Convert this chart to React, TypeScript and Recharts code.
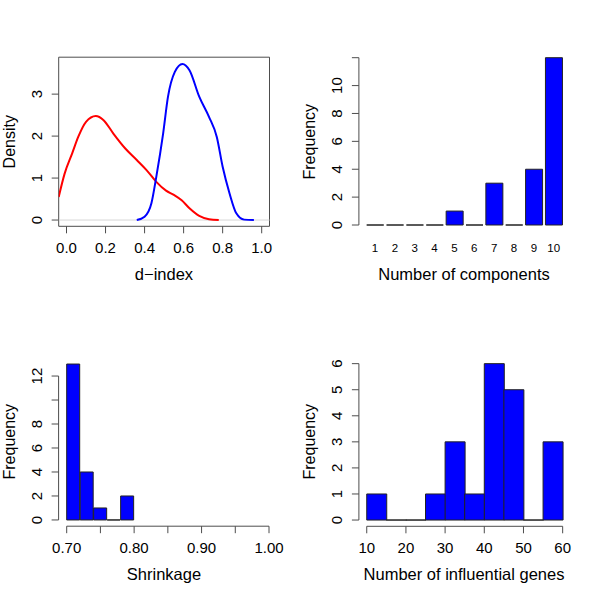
import React from 'react';
import { LineChart, Line, BarChart, Bar, XAxis, YAxis, ReferenceLine, ReferenceArea } from 'recharts';

const FONT = '"Liberation Sans", Arial, Helvetica, sans-serif';
const AXIS = '#4d4d4d';
const BLUE = '#0000ff';
const TICK_FONT = 15;
const TITLE_FONT = 16.5;

// d-index densities
const lowX = [-0.04, -0.01, 0.03, 0.06, 0.1, 0.15, 0.19, 0.24, 0.3, 0.36, 0.41, 0.46, 0.51, 0.55, 0.59, 0.63, 0.68, 0.73, 0.78];
const lowY = [0.55, 1.1, 1.6, 1.98, 2.34, 2.48, 2.38, 2.06, 1.71, 1.43, 1.19, 0.91, 0.7, 0.6, 0.47, 0.28, 0.1, 0.02, 0];
const highX = [0.36, 0.4, 0.435, 0.46, 0.495, 0.52, 0.555, 0.594, 0.63, 0.68, 0.73, 0.77, 0.8, 0.835, 0.87, 0.91, 0.96];
const highY = [0, 0.08, 0.4, 1.03, 2.06, 2.94, 3.53, 3.72, 3.57, 2.94, 2.46, 1.98, 1.27, 0.64, 0.16, 0.01, 0];
const dIndexDomain = [-0.04, 1.04];
const densityDomain = [-0.149, 3.88];
const dIndexTicks = [0, 0.2, 0.4, 0.6, 0.8, 1];
const densityTicks = [0, 1, 2, 3];

// number of components
const components = [1, 2, 3, 4, 5, 6, 7, 8, 9, 10];
const componentFreq = [0, 0, 0, 0, 1, 0, 3, 0, 4, 12];
const compXDomain = [0.19, 10.81];
const compYDomain = [-0.48, 12.48];
const compYTicks = [0, 2, 4, 6, 8, 10, 12];
const compYLabels = [0, 2, 4, 6, 8, 10];

// shrinkage histogram (bin mids)
const shrinkMid = [0.71, 0.73, 0.75, 0.77, 0.79];
const shrinkFreq = [13, 4, 1, 0, 2];
const shrinkXDomain = [0.688, 1.012];
const shrinkYDomain = [-0.52, 13.52];
const shrinkXTicks = [0.7, 0.75, 0.8, 0.85, 0.9, 0.95, 1];
const shrinkXLabels = [0.7, 0.8, 0.9, 1];
const shrinkYTicks = [0, 2, 4, 6, 8, 10, 12];
const shrinkYLabels = [0, 2, 4, 6, 8, 12];

// influential genes histogram (bin mids)
const geneMid = [12.5, 17.5, 22.5, 27.5, 32.5, 37.5, 42.5, 47.5, 52.5, 57.5];
const geneFreq = [1, 0, 0, 1, 3, 1, 6, 5, 0, 3];
const geneXDomain = [8, 62];
const geneYDomain = [-0.24, 6.24];
const geneXTicks = [10, 20, 30, 40, 50, 60];
const geneYTicks = [0, 1, 2, 3, 4, 5, 6];

const lowData = lowX.map((x, i) => ({ x, y: lowY[i] }));
const highData = highX.map((x, i) => ({ x, y: highY[i] }));
const compData = components.map((n, i) => ({ n, f: componentFreq[i] }));
const shrinkData = shrinkMid.map((m, i) => ({ m, f: shrinkFreq[i] }));
const geneData = geneMid.map((m, i) => ({ m, f: geneFreq[i] }));

const xTick = (fmt: (v: number) => string, shown: number[] | null, size = TICK_FONT, drop = 20) => (p: any) => {
  const v = p.payload.value;
  if (shown && !shown.includes(v)) return <g />;
  return (
    <text x={p.x} y={p.y + drop} textAnchor="middle" fontSize={size} fontFamily={FONT} fill="#000">
      {fmt(v)}
    </text>
  );
};

const yTick = (shown: number[] | null) => (p: any) => {
  const v = p.payload.value;
  if (shown && !shown.includes(v)) return <g />;
  const bx = p.x - 10;
  return (
    <text x={bx} y={p.y} transform={`rotate(-90 ${bx} ${p.y})`} textAnchor="middle" fontSize={TICK_FONT} fontFamily={FONT} fill="#000">
      {String(v)}
    </text>
  );
};

const xTitle = (text: string) => () => (
  <text x={164} y={280} textAnchor="middle" fontSize={TITLE_FONT} fontFamily={FONT} fill="#000">{text}</text>
);
const yTitle = (text: string) => () => (
  <text x={14.6} y={141.7} transform="rotate(-90 14.6 141.7)" textAnchor="middle" fontSize={16} fontFamily={FONT} fill="#000">{text}</text>
);

// R draws empty bins as a flat outline, so zero-height bars still get a line
const HistBar = (p: any) => {
  const { x, y, width } = p;
  const h = Math.max(0, p.height || 0);
  return <path d={`M${x},${y}h${width}v${h}h${-width}Z`} fill={BLUE} stroke="#222" strokeWidth={1} />;
};

function DensityPanel() {
  return (
    <LineChart width={300} height={300} margin={{ top: 57.2, right: 30.5, bottom: 43.7, left: 0 }}>
      <XAxis type="number" dataKey="x" domain={dIndexDomain} ticks={dIndexTicks} allowDataOverflow interval={0}
        height={30} tickSize={7} tickMargin={0} axisLine={false} tickLine={{ stroke: AXIS }}
        tick={xTick((v) => v.toFixed(1), null)} label={{ content: xTitle('d\u2212index') }} />
      <YAxis type="number" domain={densityDomain} ticks={densityTicks} allowDataOverflow interval={0}
        width={58.7} tickSize={7} tickMargin={0} axisLine={false} tickLine={{ stroke: AXIS }}
        tick={yTick(null)} label={{ content: yTitle('Density') }} />
      <ReferenceLine y={0} stroke="#d6d6d6" strokeWidth={1} />
      <ReferenceArea x1={dIndexDomain[0]} x2={dIndexDomain[1]} y1={densityDomain[0]} y2={densityDomain[1]}
        fill="none" fillOpacity={0} stroke={AXIS} strokeWidth={1} ifOverflow="visible" />
      <Line data={lowData} dataKey="y" type="monotone" stroke="#ff0000" strokeWidth={2} dot={false} isAnimationActive={false} />
      <Line data={highData} dataKey="y" type="monotone" stroke="#0000ff" strokeWidth={2} dot={false} isAnimationActive={false} />
    </LineChart>
  );
}

function ComponentsPanel() {
  return (
    <BarChart width={300} height={300} data={compData} barCategoryGap="8.33%" margin={{ top: 51, right: 30.2, bottom: 38.3, left: 0 }}>
      <XAxis type="number" dataKey="n" domain={compXDomain} ticks={components} interval={0}
        height={30} tickSize={0} tickMargin={0} axisLine={false} tickLine={false}
        tick={xTick((v) => String(v), null, 11.5, 20.6)} label={{ content: xTitle('Number of components') }} />
      <YAxis type="number" domain={compYDomain} ticks={compYTicks} interval={0}
        width={58.9} tickSize={7} tickMargin={0} axisLine={false} tickLine={{ stroke: AXIS }}
        tick={yTick(compYLabels)} label={{ content: yTitle('Frequency') }} />
      <ReferenceLine segment={[{ x: compXDomain[0], y: compYTicks[0] }, { x: compXDomain[0], y: compYTicks[compYTicks.length - 1] }]}
        stroke={AXIS} ifOverflow="visible" />
      <Bar dataKey="f" shape={HistBar} isAnimationActive={false} />
    </BarChart>
  );
}

function ShrinkagePanel() {
  return (
    <BarChart width={300} height={300} data={shrinkData} barCategoryGap={0} barGap={0} margin={{ top: 57.8, right: 22.9, bottom: 43.8, left: 0 }}>
      <XAxis type="number" dataKey="m" domain={shrinkXDomain} ticks={shrinkXTicks} interval={0}
        height={30} tickSize={7} tickMargin={0} axisLine={false} tickLine={{ stroke: AXIS }}
        tick={xTick((v) => v.toFixed(2), shrinkXLabels)} label={{ content: xTitle('Shrinkage') }} />
      <YAxis type="number" domain={shrinkYDomain} ticks={shrinkYTicks} interval={0}
        width={58.6} tickSize={7} tickMargin={0} axisLine={false} tickLine={{ stroke: AXIS }}
        tick={yTick(shrinkYLabels)} label={{ content: yTitle('Frequency') }} />
      <ReferenceLine segment={[{ x: shrinkXTicks[0], y: shrinkYDomain[0] }, { x: shrinkXTicks[shrinkXTicks.length - 1], y: shrinkYDomain[0] }]}
        stroke={AXIS} ifOverflow="visible" />
      <ReferenceLine segment={[{ x: shrinkXDomain[0], y: shrinkYTicks[0] }, { x: shrinkXDomain[0], y: shrinkYTicks[shrinkYTicks.length - 1] }]}
        stroke={AXIS} ifOverflow="visible" />
      <Bar dataKey="f" shape={HistBar} isAnimationActive={false} />
    </BarChart>
  );
}

function GenesPanel() {
  return (
    <BarChart width={300} height={300} data={geneData} barCategoryGap={0} barGap={0} margin={{ top: 57.4, right: 29.5, bottom: 43.7, left: 0 }}>
      <XAxis type="number" dataKey="m" domain={geneXDomain} ticks={geneXTicks} interval={0}
        height={30} tickSize={7} tickMargin={0} axisLine={false} tickLine={{ stroke: AXIS }}
        tick={xTick((v) => String(v), null)} label={{ content: xTitle('Number of influential genes') }} />
      <YAxis type="number" domain={geneYDomain} ticks={geneYTicks} interval={0}
        width={58.9} tickSize={7} tickMargin={0} axisLine={false} tickLine={{ stroke: AXIS }}
        tick={yTick(null)} label={{ content: yTitle('Frequency') }} />
      <ReferenceLine segment={[{ x: geneXTicks[0], y: geneYDomain[0] }, { x: geneXTicks[geneXTicks.length - 1], y: geneYDomain[0] }]}
        stroke={AXIS} ifOverflow="visible" />
      <ReferenceLine segment={[{ x: geneXDomain[0], y: geneYTicks[0] }, { x: geneXDomain[0], y: geneYTicks[geneYTicks.length - 1] }]}
        stroke={AXIS} ifOverflow="visible" />
      <Bar dataKey="f" shape={HistBar} isAnimationActive={false} />
    </BarChart>
  );
}

export default function App() {
  return (
    <div style={{ position: 'absolute', left: 0, top: 0, width: 600, height: 599, background: '#fff', overflow: 'hidden' }}>
      <div style={{ position: 'absolute', left: 0, top: 0 }}><DensityPanel /></div>
      <div style={{ position: 'absolute', left: 300, top: 0 }}><ComponentsPanel /></div>
      <div style={{ position: 'absolute', left: 0, top: 300 }}><ShrinkagePanel /></div>
      <div style={{ position: 'absolute', left: 300, top: 300 }}><GenesPanel /></div>
    </div>
  );
}
